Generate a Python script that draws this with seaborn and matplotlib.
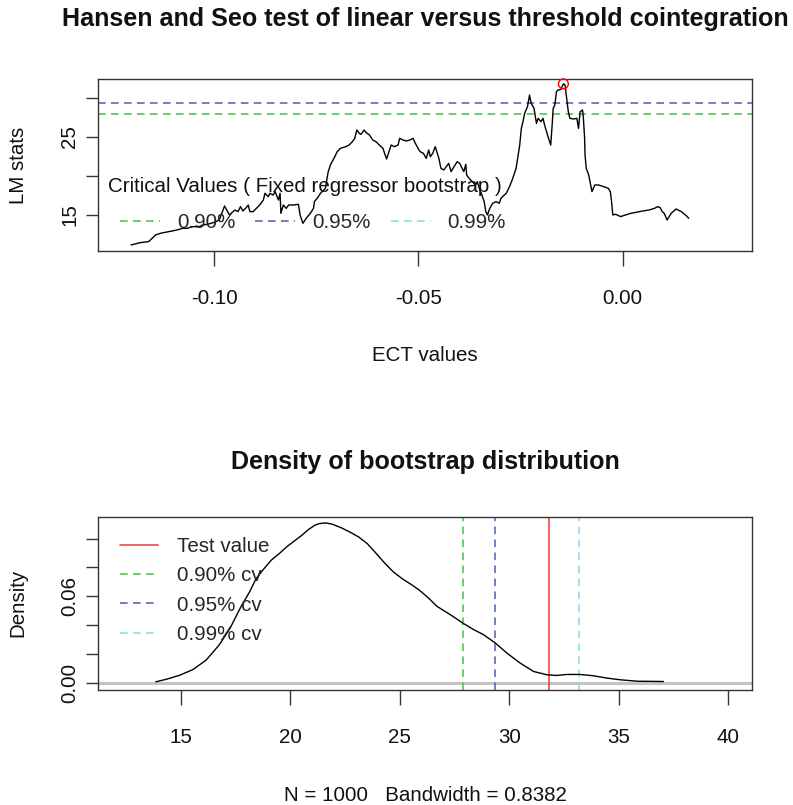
import matplotlib
matplotlib.use("Agg")
import matplotlib.pyplot as plt
from matplotlib import font_manager as fm
from matplotlib.lines import Line2D
import seaborn as sns
import pandas as pd

# ---------------- data ----------------
ect_values = [
    -0.1204, -0.1182, -0.1161, -0.1154, -0.1144, -0.1132, -0.1120, -0.1103, -0.1091, -0.1078,
    -0.1066, -0.1054, -0.1037, -0.1029, -0.1017, -0.1008, -0.1000, -0.0988, -0.0975, -0.0963,
    -0.0950, -0.0942, -0.0936, -0.0930, -0.0922, -0.0917, -0.0913, -0.0905, -0.0897, -0.0889,
    -0.0880, -0.0876, -0.0868, -0.0864, -0.0856, -0.0851, -0.0843, -0.0839, -0.0837, -0.0831,
    -0.0824, -0.0818, -0.0806, -0.0794, -0.0790, -0.0783, -0.0775, -0.0765, -0.0757, -0.0755,
    -0.0748, -0.0740, -0.0728, -0.0724, -0.0721, -0.0715, -0.0707, -0.0699, -0.0691, -0.0678,
    -0.0670, -0.0662, -0.0656, -0.0651, -0.0645, -0.0641, -0.0633, -0.0629, -0.0620, -0.0612,
    -0.0604, -0.0596, -0.0587, -0.0583, -0.0578, -0.0571, -0.0567, -0.0559, -0.0550, -0.0546,
    -0.0538, -0.0530, -0.0521, -0.0513, -0.0509, -0.0501,
    -0.0496, -0.0488, -0.0481, -0.0475, -0.0471, -0.0465, -0.0459, -0.0455, -0.0450, -0.0445,
    -0.0438, -0.0432, -0.0426, -0.0420, -0.0413, -0.0405, -0.0399, -0.0393, -0.0389, -0.0384,
    -0.0382, -0.0376, -0.0368, -0.0360, -0.0356, -0.0351, -0.0346, -0.0339, -0.0335, -0.0331,
    -0.0327, -0.0323, -0.0318, -0.0310, -0.0302, -0.0298, -0.0294, -0.0285, -0.0277, -0.0269,
    -0.0261, -0.0257, -0.0252, -0.0248, -0.0244, -0.0240, -0.0233, -0.0228, -0.0224, -0.0217,
    -0.0211, -0.0207, -0.0200, -0.0195, -0.0191, -0.0184, -0.0176, -0.0172, -0.0170, -0.0166,
    -0.0162, -0.0158, -0.0151, -0.0145, -0.0141, -0.0137, -0.0133, -0.0129, -0.0120, -0.0112,
    -0.0108, -0.0104, -0.0098, -0.0096, -0.0093, -0.0092, -0.0089, -0.0083, -0.0075, -0.0068,
    -0.0059, -0.0046, -0.0035, -0.0030, -0.0027, -0.0024, -0.0017, -0.0005, 0.0007, 0.0020,
    0.0032, 0.0049, 0.0065, 0.0078, 0.0086, 0.0092, 0.0097, 0.0102, 0.0109, 0.0119,
    0.0131, 0.0144, 0.0156, 0.0162,
]
lm_stats = [
    11.15, 11.45, 11.58, 11.92, 12.44, 12.65, 12.78, 12.95, 13.08, 13.29,
    13.29, 13.50, 13.50, 13.72, 13.80, 13.93, 14.06, 14.36, 16.15, 15.00,
    15.64, 15.43, 16.07, 15.51, 15.94, 16.28, 15.43, 15.43, 15.85, 16.28,
    16.92, 17.78, 17.35, 17.78, 17.56, 17.99, 16.92, 17.78, 15.21, 16.28,
    15.85, 16.28, 16.28, 16.37, 15.00, 13.93, 14.57, 15.21, 15.85, 16.71,
    17.14, 17.78, 18.42, 19.70, 20.56, 21.50, 22.26, 23.12, 23.55, 23.76,
    23.97, 24.40, 24.83, 25.90, 25.47, 25.34, 25.90, 25.60, 25.26, 24.62,
    24.40, 23.97, 23.55, 22.91, 22.18, 23.33, 23.97, 23.76, 23.97, 24.83,
    24.62, 24.49, 24.62, 24.83, 24.32, 23.55,
    23.12, 22.91, 22.26, 23.33, 22.48, 22.91, 23.76, 23.12, 22.26, 20.98,
    20.77, 21.20, 21.62, 20.56, 21.20, 21.84, 21.62, 20.98, 20.56, 21.50,
    20.13, 19.70, 19.27, 18.85, 19.27, 18.42, 17.78, 16.71, 15.43, 15.00,
    15.64, 16.07, 16.50, 16.71, 16.50, 17.14, 17.35, 17.78, 18.63, 19.70,
    20.98, 22.26, 23.97, 26.11, 26.97, 28.03, 28.89, 30.38, 29.32, 28.68,
    26.75, 27.39, 26.97, 27.39, 26.54, 25.26, 23.97, 26.97, 28.68, 29.10,
    30.81, 31.03, 31.11, 31.82, 31.68, 29.96, 28.25, 27.39, 27.31, 27.39,
    26.11, 28.25, 28.46, 27.39, 24.83, 22.69, 20.98, 20.13, 17.99, 18.85,
    18.85, 18.63, 18.42, 17.99, 16.71, 15.00, 15.09, 14.79, 15.00, 15.21,
    15.34, 15.51, 15.64, 15.85, 16.07, 15.94, 15.43, 15.21, 14.36, 15.21,
    15.77, 15.43, 14.91, 14.57,
]

boot_x = [13.84, 14.34, 14.94, 15.54, 16.14, 16.73, 17.23, 17.73, 18.13, 18.43,
          18.73, 19.12, 19.52, 19.82, 20.12, 20.52, 20.82, 21.12, 21.31, 21.61,
          21.91, 22.31, 22.71, 23.11, 23.51, 23.90, 24.30, 24.70, 25.10, 25.50,
          25.90, 26.29, 26.69, 27.30, 27.91, 28.37, 28.82, 29.36, 29.89, 30.50,
          31.11, 31.72, 32.17, 32.63, 33.24, 33.85, 34.46, 35.07, 35.86, 37.05]
boot_density = [0.0005, 0.0023, 0.0051, 0.0090, 0.0155, 0.0259, 0.0375, 0.0525, 0.0630, 0.0722,
                0.0780, 0.0850, 0.0900, 0.0942, 0.0977, 0.1023, 0.1063, 0.1093, 0.1104, 0.1109,
                0.1100, 0.1076, 0.1046, 0.1012, 0.0965, 0.0900, 0.0831, 0.0769, 0.0722, 0.0683,
                0.0641, 0.0590, 0.0530, 0.0472, 0.0410, 0.0368, 0.0333, 0.0275, 0.0205, 0.0135,
                0.0077, 0.0054, 0.0049, 0.0056, 0.0056, 0.0047, 0.0031, 0.0019, 0.0009, 0.0007]

cv_labels = ["0.90%", "0.95%", "0.99%"]
cv_values = [27.90, 29.33, 33.20]
test_value = 31.82

top_xticks = [-0.10, -0.05, 0.00]
top_xticklabels = ["-0.10", "-0.05", "0.00"]
top_yticks = [15, 20, 25, 30]
top_yticklabels = ["15", "", "25", ""]
bot_xticks = [15, 20, 25, 30, 35, 40]
bot_xticklabels = ["15", "20", "25", "30", "35", "40"]
bot_yticks = [0.00, 0.02, 0.04, 0.06, 0.08, 0.10]
bot_yticklabels = ["0.00", "", "", "0.06", "", ""]

title_top = "Hansen and Seo test of linear versus threshold cointegration"
title_bot = "Density of bootstrap distribution"
xlabel_top = "ECT values"
ylabel_top = "LM stats"
xlabel_bot = "N = 1000   Bandwidth = 0.8382"
ylabel_bot = "Density"
legend_title_top = "Critical Values ( Fixed regressor bootstrap )"

# ---------------- style ----------------
cv_colors = ["#3ec43e", "#4a5cb8", "#86d8e4"]
test_color = "#f04848"
axis_color = "#333333"

sns.set_theme(style="white")
names = {f.name for f in fm.fontManager.ttflist}
if "Liberation Sans Narrow" in names:
    FAM = "Liberation Sans Narrow"
    BASE = 18.0
else:
    FAM = "Liberation Sans"
    BASE = 14.8
plt.rcParams["font.family"] = [FAM, "DejaVu Sans"]
TITLE = BASE * 1.22
FSPX = BASE * 100 / 72.0

W, H = 793, 805
fig = plt.figure(figsize=(W / 100, H / 100), dpi=100)


def rect(l, t, r, b):
    return [l / W, 1 - b / H, (r - l) / W, (b - t) / H]


ax1 = fig.add_axes(rect(98, 79, 752, 251))
ax2 = fig.add_axes(rect(98, 517, 752, 690))

dash = (0, (5, 3.5))

# ---------------- top panel ----------------
df_lm = pd.DataFrame({"ect": ect_values, "lm": lm_stats})
sns.lineplot(data=df_lm, x="ect", y="lm", ax=ax1, color="black", lw=1.0,
             estimator=None, sort=False)
for v, c in zip(cv_values, cv_colors):
    ax1.axhline(v, color=c, ls=dash, lw=1.1, zorder=1)
imax = max(range(len(lm_stats)), key=lambda i: lm_stats[i])
ax1.scatter([ect_values[imax]], [lm_stats[imax]], s=50, facecolors="none",
            edgecolors="red", linewidths=1.0, zorder=5, clip_on=False)
ax1.set_xlim(-0.1285, 0.0317)
ax1.set_ylim(10.38, 32.44)
ax1.set_xticks(top_xticks)
ax1.set_xticklabels(top_xticklabels)
ax1.set_yticks(top_yticks)
ax1.set_yticklabels(top_yticklabels)

ax1.text((108 - 98) / 654, (251 - 187) / 172, legend_title_top, transform=ax1.transAxes,
         ha="left", va="center", fontsize=BASE, color="#111111")
h1 = [Line2D([0], [0], color=c, ls=dash, lw=1.1) for c in cv_colors]
ax1.legend(h1, cv_labels, loc="center left", bbox_to_anchor=((120 - 98) / 654, (251 - 223) / 172),
           frameon=False, ncol=3, fontsize=BASE, borderpad=0, borderaxespad=0,
           handlelength=40 / FSPX, handletextpad=17 / FSPX, columnspacing=20 / FSPX)

# ---------------- bottom panel ----------------
ax2.axhline(0, color="#c4c4c4", lw=2.2, zorder=1)
df_d = pd.DataFrame({"x": boot_x, "d": boot_density})
sns.lineplot(data=df_d, x="x", y="d", ax=ax2, color="black", lw=1.0,
             estimator=None, sort=False, zorder=3)
ax2.axvline(test_value, color=test_color, lw=1.2, zorder=2)
for v, c in zip(cv_values, cv_colors):
    ax2.axvline(v, color=c, ls=dash, lw=1.1, zorder=2)
ax2.set_xlim(11.2, 41.1)
ax2.set_ylim(-0.0052, 0.1150)
ax2.set_xticks(bot_xticks)
ax2.set_xticklabels(bot_xticklabels)
ax2.set_yticks(bot_yticks)
ax2.set_yticklabels(bot_yticklabels)

h2 = [Line2D([0], [0], color=test_color, lw=1.2)] + \
     [Line2D([0], [0], color=c, ls=dash, lw=1.1) for c in cv_colors]
l2 = ["Test value"] + [f"{s} cv" for s in cv_labels]
ax2.legend(h2, l2, loc="upper left", bbox_to_anchor=((120 - 98) / 654, (690 - 537) / 173),
           frameon=False, fontsize=BASE, borderpad=0, borderaxespad=0,
           handlelength=38 / FSPX, handletextpad=19 / FSPX, labelspacing=0.5)

# ---------------- common axis styling ----------------
for ax in (ax1, ax2):
    ax.set_xlabel("")
    ax.set_ylabel("")
    for s in ax.spines.values():
        s.set_visible(True)
        s.set_color(axis_color)
        s.set_linewidth(1.0)
    ax.tick_params(axis="x", direction="out", length=10.5, width=1.0, color=axis_color,
                   labelsize=BASE, pad=17, labelcolor="#111111", bottom=True)
    ax.tick_params(axis="y", direction="out", length=9, width=1.0, color=axis_color,
                   labelsize=BASE, pad=4.5, labelcolor="#111111", left=True, labelrotation=90)
    for lab in ax.get_yticklabels():
        lab.set_va("center")
    ax.grid(False)

fig.text(425 / W, 1 - 19 / H, title_top, ha="center", va="center",
         fontsize=TITLE, fontweight="bold", color="#111111")
fig.text(425 / W, 1 - 462 / H, title_bot, ha="center", va="center",
         fontsize=TITLE, fontweight="bold", color="#111111")
fig.text(425 / W, 1 - 355 / H, xlabel_top, ha="center", va="center", fontsize=BASE, color="#111111")
fig.text(425 / W, 1 - 795 / H, xlabel_bot, ha="center", va="center", fontsize=BASE, color="#111111")
fig.text(18 / W, 1 - 165 / H, ylabel_top, ha="center", va="center", rotation=90,
         fontsize=BASE, color="#111111")
fig.text(18 / W, 1 - 603 / H, ylabel_bot, ha="center", va="center", rotation=90,
         fontsize=BASE, color="#111111")

fig.savefig("out.png", dpi=100, facecolor="white")
